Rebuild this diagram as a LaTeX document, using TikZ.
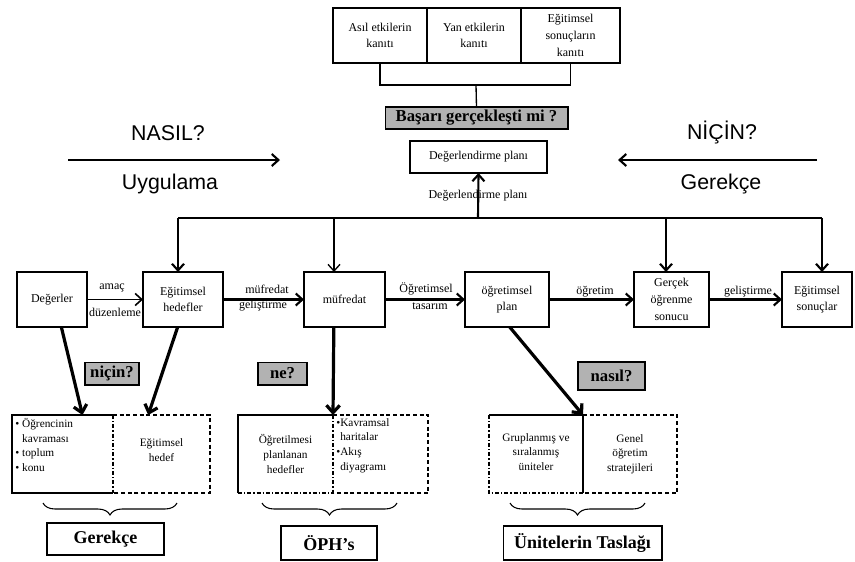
\documentclass[tikz,border=0pt]{standalone}
\usepackage{fontspec}
\setmainfont{Liberation Serif}
\newfontfamily\arialfont{Liberation Sans}
\usepackage{tikz}
\usetikzlibrary{arrows.meta,positioning,decorations.pathreplacing}

\begin{document}
\begin{tikzpicture}[x=0.75pt, y=-0.75pt,
  kutu/.style={draw, line width=1.1pt, align=center, inner sep=1pt, outer sep=0pt,
    font=\fontsize{9}{12.5}\selectfont},
  satir/.style={kutu, minimum height=41.25pt},
  gri/.style={draw, line width=1pt, fill=gray!60, inner sep=1pt, outer sep=0pt,
    font=\bfseries\fontsize{12.5}{14}\selectfont},
  etiket/.style={draw, line width=1pt, inner sep=1pt, outer sep=0pt,
    font=\bfseries\fontsize{13.5}{15}\selectfont},
  yazi/.style={inner sep=1pt, font=\fontsize{9}{11}\selectfont},
  hucre/.style={minimum height=58.5pt, inner sep=0pt, outer sep=0pt, align=center,
    font=\fontsize{8.5}{11}\selectfont},
  buyuk/.style={font=\arialfont\fontsize{16}{18}\selectfont},
  duz/.style={line width=1.3pt},
  kesik/.style={line width=1.3pt, dash pattern=on 3pt off 2pt},
  noktali/.style={line width=1.3pt, dash pattern=on 3pt off 1.5pt on 1pt off 1.5pt},
  ok/.style={line width=1.6pt, -{Straight Barb[length=5pt,width=9pt]}},
  kalinok/.style={line width=2.4pt, -{Straight Barb[length=5.5pt,width=10pt]}},
  parantez/.style={decorate, decoration={brace, mirror, amplitude=9pt}, line width=0.8pt},
]
\useasboundingbox (0,0) rectangle (855,561);

% kanit tablosu
\node[kutu, minimum width=70.5pt, minimum height=41.25pt] (asil) at (380,35.5) {Asıl etkilerin\\kanıtı};
\node[kutu, minimum width=70.5pt, minimum height=41.25pt] (yan) at (474,35.5) {Yan etkilerin\\kanıtı};
\node[kutu, minimum width=74.25pt, minimum height=41.25pt] (sonk) at (570.5,35.5) {Eğitimsel\\sonuçların\\kanıtı};
\coordinate (brk) at (476,85);
\draw[line width=1pt] (asil.south) |- (brk) -| (sonk.south);

\node[gri, minimum width=137pt, minimum height=16.5pt] (basari) at (476.5,118) {Başarı gerçekleşti mi ?};
\draw[line width=1pt] (brk) -- (basari.north);
\node[kutu, minimum width=103pt, minimum height=24pt] (dplan) at (478.5,157) {Değerlendirme planı};

% nasil / nicin
\coordinate (n1) at (68,160);
\coordinate (n2) at (280,160);
\draw[ok] (n1) -- (n2);
\node[buyuk] (nasil) at (168,133) {NASIL?};
\node[buyuk] (uyg) at (170,184) {Uygulama};
\coordinate (c1) at (817,160);
\coordinate (c2) at (618,160);
\draw[ok] (c1) -- (c2);
\node[buyuk] (nicin) at (722,133) {NİÇİN?};
\node[buyuk] (gerekce1) at (721,184) {Gerekçe};

% ana sira
\node[satir, minimum width=52.5pt] (deg) at (52,299.5) {Değerler};
\node[satir, minimum width=60pt] (egh) at (183,299.5) {Eğitimsel\\hedefler};
\node[satir, minimum width=60.75pt] (muf) at (344.5,299.5) {müfredat};
\node[satir, minimum width=63pt] (oplan) at (507,299.5) {öğretimsel\\plan};
\node[satir, minimum width=56.25pt] (gos) at (671.5,299.5) {Gerçek\\öğrenme\\sonucu};
\node[satir, minimum width=52.5pt] (egs) at (817,299.5) {Eğitimsel\\sonuçlar};

\draw[line width=1.2pt, -{Straight Barb[length=5pt,width=9pt]}] (deg) -- (egh);
\draw[ok] (egh) -- (muf);
\draw[ok] (muf) -- (oplan);
\draw[ok] (oplan) -- (gos);
\draw[ok] (gos) -- (egs);

\node[yazi] (l1) at (112,288) {amaç};
\node[yazi] (l2) at (115,312) {düzenleme};
\node[yazi] (l3) at (267,289) {müfredat};
\node[yazi] (l4) at (263,306) {geliştirme};
\node[yazi] (l5) at (426,289) {Öğretimsel};
\node[yazi] (l6) at (430,306) {tasarım};
\node[yazi] (l7) at (595,292) {öğretim};
\node[yazi] (l8) at (748,292) {geliştirme};

% degerlendirme hatti
\coordinate (bus) at (478,218);
\coordinate (d1) at (178,218);
\coordinate (d2) at (334,218);
\coordinate (d3) at (666,218);
\coordinate (d4) at (822,218);
\draw[line width=1pt] (d1) -- (d4);
\draw[ok] (d1) -- (d1 |- egh.north);
\draw[line width=1pt, -{Straight Barb[length=5pt,width=9pt]}] (d2) -- (d2 |- muf.north);
\draw[ok] (d3) -- (d3 |- gos.north);
\draw[ok] (d4) -- (d4 |- egs.north);
\draw[ok] (bus) -- (dplan.south);
\node[yazi] (l9) at (478,196) {Değerlendirme planı};

% alt gruplar
\node[hucre, minimum width=75.75pt] (gl) at (62.5,454) {};
\node[hucre, minimum width=72.75pt] (gr) at (161.5,450) {Eğitimsel\\hedef};
\node[hucre, minimum width=71.25pt] (ol) at (285.5,454) {Öğretilmesi\\planlanan\\hedefler};
\node[hucre, minimum width=71.25pt] (or) at (380.5,454) {};
\node[hucre, minimum width=70.5pt] (ul) at (536,452) {Gruplanmış ve\\sıralanmış\\üniteler};
\node[hucre, minimum width=70.5pt] (ur) at (630,454) {Genel\\öğretim\\stratejileri};

\node[hucre, minimum height=0pt, inner sep=2.5pt, anchor=north west, align=left] (glm) at (gl.north west)
  {\textbullet\ Öğrencinin\\\phantom{\textbullet\ }kavraması\\\textbullet\ toplum\\\textbullet\ konu};
\node[hucre, minimum height=0pt, inner sep=2.5pt, anchor=north west, align=left] (orm) at (or.north west)
  {\textbullet Kavramsal\\\phantom{\textbullet}haritalar\\\textbullet Akış\\\phantom{\textbullet}diyagramı};

\draw[duz] (gl.north east) -- (gl.north west) -- (gl.south west) -- (gl.south east);
\draw[kesik] (gr.north west |- gl.north) -- (gr.north east |- gl.north) -- (gr.south east |- gl.south) -- (gr.south west |- gl.south);
\draw[noktali] (gl.north east) -- (gl.south east);

\draw[duz] (ol.south west) -- (ol.north west) -- (ol.north east);
\draw[noktali, line width=0.9pt] (ol.south west) -- (ol.south east);
\draw[kesik] (or.north west) -- (or.north east) -- (or.south east) -- (or.south west);
\draw[noktali, line width=0.8pt] (ol.north east) -- (ol.south east);

\draw[line width=1pt] (ul.north west |- ur.north) -- (ur.north west);
\draw[noktali, line width=0.9pt] (ul.north west |- ur.north) -- (ul.south west |- ur.south) -- (ur.south west);
\draw[kesik] (ur.north west) -- (ur.north east) -- (ur.south east) -- (ur.south west);
\draw[line width=2pt] (ur.north west) -- (ur.south west);

% sorular
\node[gri, minimum width=40.5pt, minimum height=17pt] (q1) at (112,373.5) {niçin?};
\node[gri, minimum width=36.75pt, minimum height=17pt] (q2) at (282.5,373.5) {ne?};
\node[gri, minimum width=50.25pt, minimum height=21pt] (q3) at (611.5,376) {nasıl?};

\draw[kalinok] ([xshift=7pt]deg.south) -- ([xshift=15pt]gl.north);
\draw[kalinok] ([xshift=-4pt]egh.south) -- ([xshift=-10pt]gl.north -| gr.north);
\draw[kalinok] ([xshift=-8pt]muf.south) -- (ol.north east);
\draw[kalinok] ([xshift=2pt]oplan.south) -- (ur.north west);

% parantezler
\draw[parantez] (43,503) -- (177,503);
\draw[parantez] (262,503) -- (397,503);
\draw[parantez] (510,503) -- (645,503);

\node[etiket, minimum width=87.75pt, minimum height=24pt] (gerekce2) at (105.5,539) {Gerekçe};
\node[etiket, minimum width=72pt, minimum height=25.5pt] (oph) at (329,543) {ÖPH’s};
\node[etiket, minimum width=119pt, minimum height=25.5pt] (taslak) at (582.5,543) {Ünitelerin Taslağı};
\end{tikzpicture}
\end{document}
